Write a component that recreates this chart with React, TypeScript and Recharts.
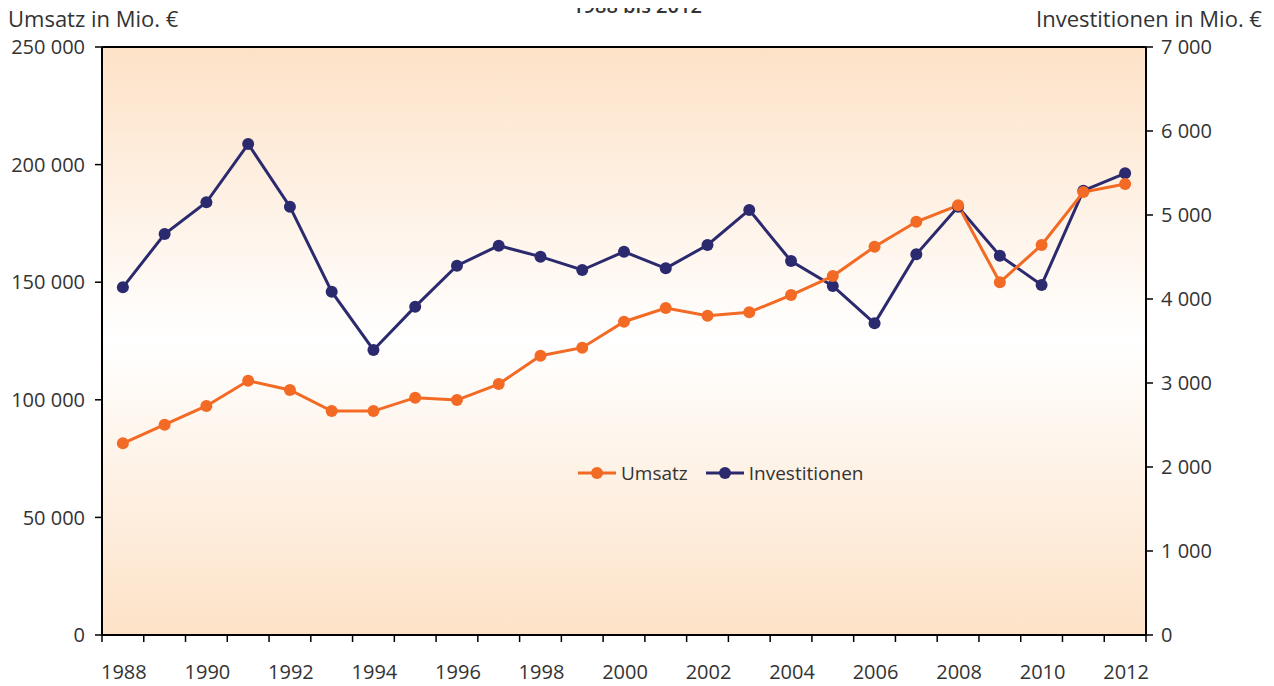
import React from 'react';
import { LineChart, Line, XAxis, YAxis, CartesianGrid, ReferenceLine, Legend } from 'recharts';

const years = [1988, 1989, 1990, 1991, 1992, 1993, 1994, 1995, 1996, 1997, 1998, 1999, 2000, 2001, 2002, 2003, 2004, 2005, 2006, 2007, 2008, 2009, 2010, 2011, 2012];
const umsatz = [81500, 89400, 97400, 108100, 104200, 95200, 95200, 100900, 99900, 106700, 118750, 122150, 133200, 139000, 135750, 137200, 144550, 152600, 165100, 175700, 182700, 149950, 165800, 188350, 191750];
const investitionen = [4139, 4774, 5151, 5845, 5099, 4087, 3393, 3909, 4397, 4635, 4504, 4345, 4563, 4365, 4643, 5060, 4452, 4155, 3710, 4532, 5099, 4516, 4167, 5290, 5496];
const xLabelYears = [1988, 1990, 1992, 1994, 1996, 1998, 2000, 2002, 2004, 2006, 2008, 2010, 2012];
const leftTicks = [0, 50000, 100000, 150000, 200000, 250000];
const rightTicks = [0, 1000, 2000, 3000, 4000, 5000, 6000, 7000];

const ORANGE = '#F26A24';
const NAVY = '#2B2A6F';
const TEXT = '#333333';
const FONT = '"Open Sans", sans-serif';

const data = years.map((y, i) => ({ year: y, umsatz: umsatz[i], investitionen: investitionen[i] }));
const tickBounds = [...years.map((y) => y - 0.5), years[years.length - 1] + 0.5];
const xTicks = [...tickBounds, ...xLabelYears].sort((a, b) => a - b);

const fmt = (v: number) => {
  const s = String(v);
  return s.replace(/\B(?=(\d{3})+(?!\d))/g, ' ');
};

const XTick = (props: any) => {
  const { x, y, payload } = props;
  const v = payload.value as number;
  if (v % 1 !== 0) {
    return <line x1={x} x2={x} y1={y} y2={y + 7} stroke="#000" strokeWidth={1.5} />;
  }
  return (
    <text x={x + 1} y={y + 44} textAnchor="middle" fill={TEXT} fontSize={20} fontFamily={FONT}>
      {v}
    </text>
  );
};

const LegendContent = () => {
  const item = (color: string, label: string, mr: number) => (
    <div style={{ display: 'flex', alignItems: 'center', marginRight: mr }}>
      <svg width={38} height={14} style={{ marginRight: 5 }}>
        <line x1={0} x2={38} y1={7} y2={7} stroke={color} strokeWidth={3} />
        <circle cx={19} cy={7} r={6} fill={color} />
      </svg>
      <span style={{ fontSize: 19, color: TEXT, fontFamily: FONT }}>{label}</span>
    </div>
  );
  return (
    <div style={{ display: 'flex', alignItems: 'center' }}>
      {item(ORANGE, 'Umsatz', 18)}
      {item(NAVY, 'Investitionen', 0)}
    </div>
  );
};

export default function App() {
  return (
    <div style={{ position: 'relative', width: 1258, height: 678, fontFamily: FONT }}>
      <div style={{ position: 'absolute', top: 0, left: 0, width: 1258, height: 6, overflow: 'hidden' }}>
        <div style={{ position: 'absolute', top: -12, left: 0, width: 1258, textAlign: 'center', fontSize: 20, lineHeight: '20px', fontWeight: 600, color: TEXT }}>
          1988 bis 2012
        </div>
      </div>
      <div style={{ position: 'absolute', top: -1, left: 0, fontSize: 22, lineHeight: '22px', color: TEXT, whiteSpace: 'nowrap' }}>
        Umsatz in Mio. €
      </div>
      <div style={{ position: 'absolute', top: -1, left: 1028, fontSize: 22, lineHeight: '22px', color: TEXT, whiteSpace: 'nowrap' }}>
        Investitionen in Mio. €
      </div>
      <LineChart width={1258} height={678} data={data} margin={{ top: 39, right: 0, bottom: 0, left: 0 }}>
        <defs>
          <linearGradient id="bgGrad" x1="0" y1="0" x2="0" y2="1">
            <stop offset="0%" stopColor="#FDE2C7" />
            <stop offset="50%" stopColor="#FFFFFF" />
            <stop offset="100%" stopColor="#FDE2C7" />
          </linearGradient>
        </defs>
        <CartesianGrid horizontal={false} vertical={false} fill="url(#bgGrad)" stroke="none" />
        <XAxis
          dataKey="year"
          type="number"
          domain={[1987.5, 2012.5]}
          ticks={xTicks}
          interval={0}
          tickLine={false}
          tickSize={0}
          tickMargin={0}
          tick={<XTick />}
          height={51}
          axisLine={{ stroke: '#000', strokeWidth: 2 }}
        />
        <YAxis
          yAxisId="left"
          domain={[0, 250000]}
          ticks={leftTicks}
          interval={0}
          width={94}
          tickFormatter={fmt}
          tickSize={7}
          tickMargin={10}
          tick={{ fill: TEXT, fontSize: 20, fontFamily: FONT }}
          tickLine={{ stroke: '#000', strokeWidth: 1.5 }}
          axisLine={{ stroke: '#000', strokeWidth: 2 }}
        />
        <YAxis
          yAxisId="right"
          orientation="right"
          domain={[0, 7000]}
          ticks={rightTicks}
          interval={0}
          width={120}
          tickFormatter={fmt}
          tickSize={7}
          tickMargin={8}
          tick={{ fill: TEXT, fontSize: 20, fontFamily: FONT }}
          tickLine={{ stroke: '#000', strokeWidth: 1.5 }}
          axisLine={{ stroke: '#000', strokeWidth: 2 }}
        />
        <ReferenceLine yAxisId="left" y={250000} stroke="#000" strokeWidth={2} />
        <Legend
          layout="horizontal"
          verticalAlign="middle"
          align="center"
          content={<LegendContent />}
          wrapperStyle={{ left: 570, top: 452, width: 320 }}
        />
        <Line
          yAxisId="right"
          dataKey="investitionen"
          stroke={NAVY}
          strokeWidth={3}
          dot={{ r: 6, fill: NAVY, stroke: 'none' }}
          activeDot={false}
          isAnimationActive={false}
        />
        <Line
          yAxisId="left"
          dataKey="umsatz"
          stroke={ORANGE}
          strokeWidth={3}
          dot={{ r: 6, fill: ORANGE, stroke: 'none' }}
          activeDot={false}
          isAnimationActive={false}
        />
      </LineChart>
    </div>
  );
}
